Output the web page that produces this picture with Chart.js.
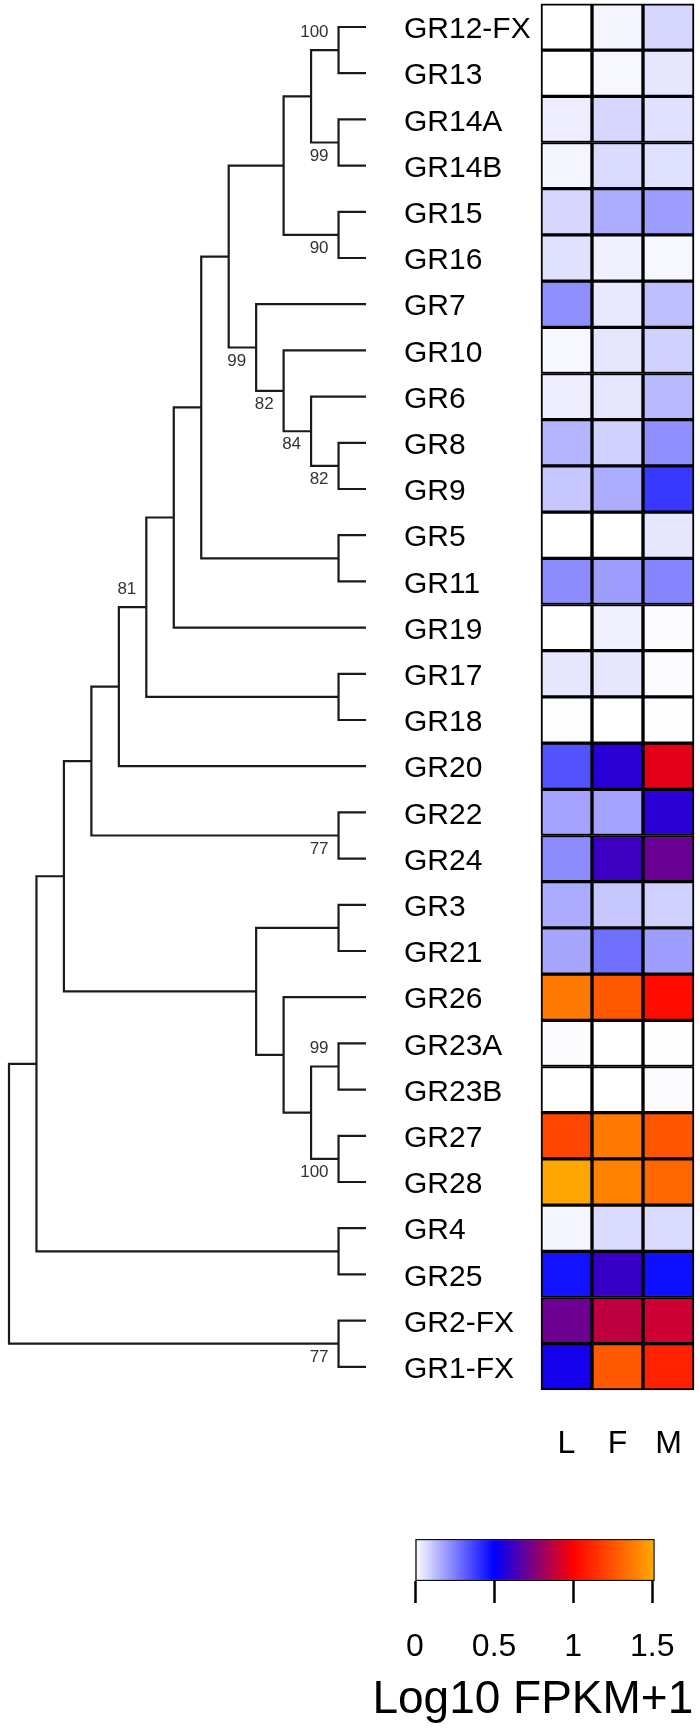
<!DOCTYPE html>
<html>
<head>
<meta charset="utf-8">
<title>GR expression heatmap</title>
<script src="https://cdn.jsdelivr.net/npm/chart.js@4.4.1/dist/chart.umd.min.js"></script>
<style>
  html, body { margin: 0; padding: 0; background: #fff; }
  #wrap { position: relative; width: 700px; height: 1731px; }
  #tree { position: absolute; left: 0; top: 0; }
  #key { position: absolute; left: 360px; top: 1500px; }
</style>
</head>
<body>
<div id="wrap">
  <canvas id="tree" width="700" height="1731"></canvas>
  <canvas id="key" width="340" height="231"></canvas>
</div>
<script>
// rows of the heatmap, top to bottom (same order as the tree tips)
const genes = ['GR12-FX', 'GR13', 'GR14A', 'GR14B', 'GR15', 'GR16', 'GR7', 'GR10', 'GR6', 'GR8',
  'GR9', 'GR5', 'GR11', 'GR19', 'GR17', 'GR18', 'GR20', 'GR22', 'GR24', 'GR3',
  'GR21', 'GR26', 'GR23A', 'GR23B', 'GR27', 'GR28', 'GR4', 'GR25', 'GR2-FX', 'GR1-FX'];
const tissues = ['L', 'F', 'M'];

// Log10 FPKM+1, one array per tissue
const valuesL = [0.00, 0.00, 0.035, 0.02, 0.08, 0.06, 0.22, 0.015, 0.035, 0.145,
  0.11, 0.00, 0.225, 0.00, 0.05, 0.004, 0.34, 0.18, 0.225, 0.165,
  0.175, 1.37, 0.005, 0.00, 1.21, 1.50, 0.02, 0.465, 0.715, 0.54];
const valuesF = [0.02, 0.015, 0.08, 0.07, 0.16, 0.03, 0.045, 0.05, 0.05, 0.09,
  0.16, 0.00, 0.19, 0.03, 0.05, 0.00, 0.58, 0.18, 0.62, 0.11,
  0.28, 1.27, 0.00, 0.00, 1.37, 1.39, 0.07, 0.61, 0.875, 1.27];
const valuesM = [0.08, 0.05, 0.06, 0.06, 0.19, 0.015, 0.125, 0.09, 0.14, 0.22,
  0.39, 0.05, 0.24, 0.005, 0.005, 0.002, 0.95, 0.58, 0.71, 0.09,
  0.19, 1.03, 0.002, 0.005, 1.26, 1.31, 0.07, 0.47, 0.90, 1.10];

// tree topology, bootstrap support as internal node labels
const treeNewick = '((((((((((((GR12-FX,GR13)100,(GR14A,GR14B)99),(GR15,GR16)90),' +
  '(GR7,(GR10,(GR6,(GR8,GR9)82)84)82)99),(GR5,GR11)),GR19),(GR17,GR18))81,GR20),' +
  '(GR22,GR24)77),((GR3,GR21),(GR26,((GR23A,GR23B)99,(GR27,GR28)100)))),' +
  '(GR4,GR25)),(GR2-FX,GR1-FX)77);';

// colour key
const keyTicks = [0, 0.5, 1, 1.5];
const keyMax = 1.515;
const keyTitle = 'Log10 FPKM+1';

// ---- styling / layout ----
const FONT = '"Liberation Sans", Arial, sans-serif';
Chart.defaults.font.family = FONT;
const rampStops = [0, 0.5, 1, 1.5];
const rampColors = [[255, 255, 255], [0, 0, 255], [255, 0, 0], [255, 165, 0]];
const supportAbove = ['GR12-FX..GR13', 'GR12-FX..GR18', 'GR23A..GR23B'];

function rampColor(v) {
  const n = rampStops.length;
  if (v <= rampStops[0]) return rgb(rampColors[0]);
  if (v >= rampStops[n - 1]) return rgb(rampColors[n - 1]);
  let i = 0;
  while (v > rampStops[i + 1]) i++;
  const t = (v - rampStops[i]) / (rampStops[i + 1] - rampStops[i]);
  const a = rampColors[i], b = rampColors[i + 1];
  return rgb([0, 1, 2].map(k => a[k] + (b[k] - a[k]) * t));
}
function rgb(c) {
  return 'rgb(' + c.map(Math.round).join(',') + ')';
}

// min/max for an axis so that value v0 lands at pixel p0 and v1 at p1
function span(v0, p0, v1, p1, size) {
  const k = (p1 - p0) / (v1 - v0);
  const min = v0 - p0 / k;
  return { min: min, max: min + size / k };
}

function parseNewick(s) {
  let i = 0;
  function node() {
    const n = { children: [], name: '' };
    if (s[i] === '(') {
      i++;
      n.children.push(node());
      while (s[i] === ',') { i++; n.children.push(node()); }
      i++;
    }
    const start = i;
    while (i < s.length && ',);'.indexOf(s[i]) < 0) i++;
    n.name = s.slice(start, i);
    return n;
  }
  return node();
}

const tree = parseNewick(treeNewick);
function height(n) {
  return n.children.length ? 1 + Math.max(...n.children.map(height)) : 0;
}
const depth = height(tree);
const internal = [];
function place(n) {
  if (!n.children.length) {
    n.row = genes.indexOf(n.name);
    n.level = depth;
    n.first = n.last = n.name;
    return;
  }
  n.children.forEach(place);
  n.level = depth - height(n);
  n.row = n.children.reduce((s, c) => s + c.row, 0) / n.children.length;
  n.first = n.children[0].first;
  n.last = n.children[n.children.length - 1].last;
  n.key = n.first + '..' + n.last;
  internal.push(n);
}
place(tree);

const branchSets = internal.map(n => {
  const a = n.children[0], b = n.children[n.children.length - 1];
  return {
    type: 'scatter',
    showLine: true,
    xAxisID: 'x',
    yAxisID: 'y',
    data: [
      { x: a.level, y: a.row },
      { x: n.level, y: a.row },
      { x: n.level, y: b.row },
      { x: b.level, y: b.row }
    ],
    borderColor: '#1a1a1a',
    borderWidth: 2.2,
    pointRadius: 0,
    tension: 0,
    fill: false
  };
});

const heatSets = [valuesL, valuesF, valuesM].map((vals, c) => ({
  type: 'bar',
  indexAxis: 'y',
  xAxisID: 'xh',
  yAxisID: 'y',
  grouped: false,
  barPercentage: 1,
  categoryPercentage: 1,
  data: vals.map((v, i) => ({ x: [c - 0.5, c + 0.5], y: i })),
  backgroundColor: vals.map(rampColor),
  borderColor: '#000',
  borderWidth: 2,
  borderSkipped: false
}));

const W = 700, H = 1731;
const xRange = span(0, 9, depth, 366, W);
const xhRange = span(-0.5, 541, tissues.length - 0.5, 694, W);
const yRange = span(0, 27, genes.length - 1, 27 + 46.2 * (genes.length - 1), H);

const annotate = {
  id: 'annotate',
  afterDatasetsDraw(chart) {
    const { ctx } = chart;
    const { x, xh, y } = chart.scales;
    ctx.save();
    ctx.fillStyle = '#000';
    ctx.textBaseline = 'middle';
    ctx.font = '30px ' + FONT;
    ctx.textAlign = 'left';
    genes.forEach((g, i) => ctx.fillText(g, 404, y.getPixelForValue(i) + 3));

    ctx.font = '32px ' + FONT;
    ctx.textAlign = 'center';
    tissues.forEach((t, c) => ctx.fillText(t, xh.getPixelForValue(c), y.getPixelForValue(genes.length - 0.5) + 54));

    ctx.font = '17px ' + FONT;
    ctx.fillStyle = '#333';
    ctx.textAlign = 'right';
    internal.filter(n => n.name).forEach(n => {
      const above = supportAbove.includes(n.key);
      ctx.fillText(n.name, x.getPixelForValue(n.level) - 10, y.getPixelForValue(n.row) + (above ? -18 : 13.5));
    });
    ctx.restore();
  }
};

new Chart(document.getElementById('tree'), {
  type: 'scatter',
  data: { datasets: [...branchSets, ...heatSets] },
  options: {
    responsive: false,
    animation: false,
    events: [],
    layout: { padding: 0 },
    plugins: { legend: { display: false }, tooltip: { enabled: false } },
    scales: {
      x: { type: 'linear', axis: 'x', display: false, min: xRange.min, max: xRange.max, offset: false },
      xh: { type: 'linear', axis: 'x', display: false, min: xhRange.min, max: xhRange.max, offset: false },
      y: {
        type: 'linear', axis: 'y', display: false, reverse: true, offset: false,
        min: yRange.min, max: yRange.max,
        ticks: { stepSize: 1, includeBounds: false }
      }
    }
  },
  plugins: [annotate]
});

// key title is wider than the bar, so draw it here instead of as an axis title
const keyTitlePlugin = {
  id: 'keyTitle',
  afterDraw(chart) {
    const { ctx, chartArea } = chart;
    ctx.save();
    ctx.fillStyle = '#000';
    ctx.font = '46px ' + FONT;
    ctx.textAlign = 'center';
    ctx.textBaseline = 'middle';
    ctx.fillText(keyTitle, (chartArea.left + chartArea.right) / 2 - 2, chartArea.bottom + 119);
    ctx.restore();
  }
};

new Chart(document.getElementById('key'), {
  type: 'bar',
  data: {
    labels: [''],
    datasets: [{
      data: [[0, keyMax]],
      backgroundColor(ctx) {
        const chart = ctx.chart;
        if (!chart.chartArea) return null;
        const sx = chart.scales.x;
        const g = chart.ctx.createLinearGradient(sx.getPixelForValue(0), 0, sx.getPixelForValue(keyMax), 0);
        rampStops.forEach((s, i) => g.addColorStop(Math.min(1, s / keyMax), rgb(rampColors[i])));
        g.addColorStop(1, rgb(rampColors[rampColors.length - 1]));
        return g;
      },
      borderColor: '#111',
      borderWidth: 1.5,
      borderSkipped: false,
      barPercentage: 1,
      categoryPercentage: 1
    }]
  },
  options: {
    indexAxis: 'y',
    responsive: false,
    animation: false,
    events: [],
    layout: { padding: { left: 55, right: 45, top: 39, bottom: 0 } },
    plugins: { legend: { display: false }, tooltip: { enabled: false } },
    scales: {
      y: { display: false },
      x: {
        type: 'linear',
        min: 0,
        max: keyMax,
        afterBuildTicks: axis => { axis.ticks = keyTicks.map(v => ({ value: v })); },
        afterFit: axis => { axis.height = 150; },
        border: { display: false },
        grid: { drawOnChartArea: false, drawTicks: true, tickLength: 22, tickWidth: 2.5, tickColor: '#000' },
        ticks: {
          padding: 25, color: '#000', autoSkip: false, maxRotation: 0, font: { size: 32 },
          callback: v => String(v)
        }
      }
    }
  },
  plugins: [keyTitlePlugin]
});
</script>
</body>
</html>
